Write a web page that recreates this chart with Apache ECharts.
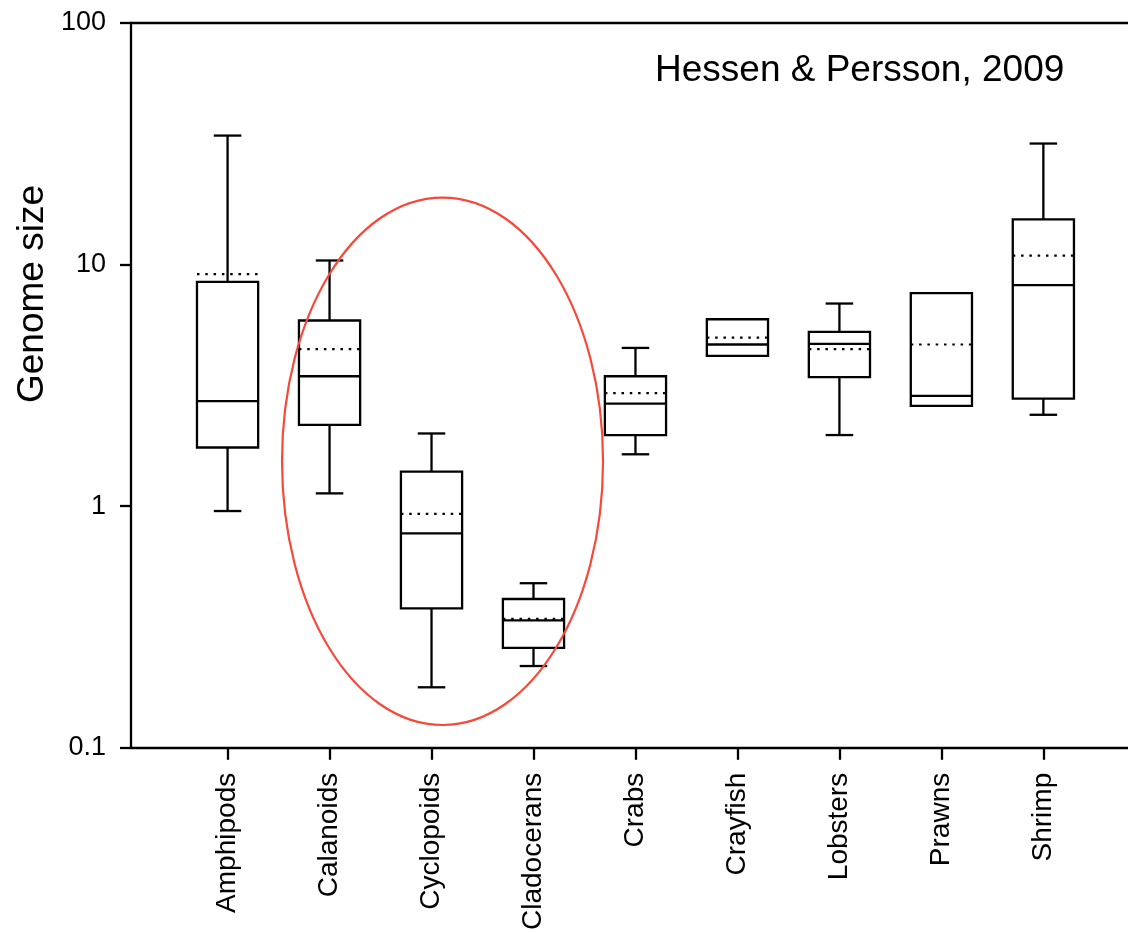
<!DOCTYPE html>
<html><head><meta charset="utf-8">
<script src="https://cdn.jsdelivr.net/npm/echarts@6/dist/echarts.min.js"></script>
<style>html,body{margin:0;padding:0;background:#fff}#c{width:1128px;height:933px}</style>
</head><body><div id="c"></div>
<script>
const categories = ['Amphipods','Calanoids','Cyclopoids','Cladocerans','Crabs','Crayfish','Lobsters','Prawns','Shrimp'];
const whiskerLow  = [0.955, 1.13, 0.178, 0.218, 1.64, 4.19, 1.97, 2.60, 2.39];
const quartile1   = [1.75, 2.17, 0.378, 0.259, 1.97, 4.19, 3.42, 2.60, 2.79];
const medians     = [2.72, 3.45, 0.772, 0.337, 2.66, 4.67, 4.70, 2.86, 8.22];
const quartile3   = [8.48, 5.87, 1.39, 0.413, 3.45, 5.94, 5.27, 7.62, 15.4];
const whiskerHigh = [34.2, 10.4, 2.0, 0.480, 4.52, 5.94, 6.90, 7.62, 31.7];
const means       = [9.13, 4.47, 0.93, 0.342, 2.94, 4.99, 4.47, 4.67, 10.9];
const yTicks = [0.1, 1, 10, 100];
// annotation ellipse bounds: [x left, x right, y bottom, y top] in data units
const highlightEllipse = [1.534, 4.682, 0.1243, 18.95];
const citation = 'Hessen & Persson, 2009';
const yAxisTitle = 'Genome size';

const FONT = '"Liberation Sans", Arial, Helvetica, sans-serif';
const LW = 2.3;
const xPositions = categories.map((c, i) => i + 1);
const boxData = categories.map((c, i) => [i + 1, whiskerLow[i], quartile1[i], medians[i], quartile3[i], whiskerHigh[i], means[i]]);

function renderBox(params, api) {
  const x = api.value(0);
  const lo = api.value(1), q1 = api.value(2), med = api.value(3), q3 = api.value(4), hi = api.value(5), mean = api.value(6);
  const halfBox = 0.3, halfCap = 0.135;
  const c = (xx, yy) => api.coord([xx, yy]);
  const left = c(x - halfBox, q3)[0], right = c(x + halfBox, q3)[0];
  const cx = c(x, q3)[0];
  const capL = c(x - halfCap, q3)[0], capR = c(x + halfCap, q3)[0];
  const yQ1 = c(x, q1)[1], yQ3 = c(x, q3)[1], yMed = c(x, med)[1], yMean = c(x, mean)[1];
  const yLo = c(x, lo)[1], yHi = c(x, hi)[1];
  const st = { stroke: '#000', lineWidth: LW, fill: null };
  const ch = [];
  if (hi > q3) {
    ch.push({ type: 'line', shape: { x1: cx, y1: yQ3, x2: cx, y2: yHi }, style: st });
    ch.push({ type: 'line', shape: { x1: capL, y1: yHi, x2: capR, y2: yHi }, style: st });
  }
  if (lo < q1) {
    ch.push({ type: 'line', shape: { x1: cx, y1: yQ1, x2: cx, y2: yLo }, style: st });
    ch.push({ type: 'line', shape: { x1: capL, y1: yLo, x2: capR, y2: yLo }, style: st });
  }
  ch.push({ type: 'rect', shape: { x: left, y: yQ3, width: right - left, height: yQ1 - yQ3 }, style: { stroke: '#000', lineWidth: LW, fill: '#fff' } });
  ch.push({ type: 'line', shape: { x1: left, y1: yMed, x2: right, y2: yMed }, style: st });
  ch.push({ type: 'line', shape: { x1: left, y1: yMean, x2: right, y2: yMean }, style: { stroke: '#000', lineWidth: 2.2, lineDash: [2.5, 5.8], fill: null } });
  return { type: 'group', children: ch };
}

function renderEllipse(params, api) {
  const p1 = api.coord([api.value(0), api.value(3)]);
  const p2 = api.coord([api.value(1), api.value(2)]);
  return {
    type: 'ellipse',
    shape: { cx: (p1[0] + p2[0]) / 2, cy: (p1[1] + p2[1]) / 2, rx: Math.abs(p2[0] - p1[0]) / 2, ry: Math.abs(p2[1] - p1[1]) / 2 },
    style: { stroke: '#f6493a', lineWidth: 2.2, fill: null },
    z2: 10
  };
}

const chart = echarts.init(document.getElementById('c'), null, { renderer: 'canvas' });
const axisLineStyle = { color: '#000', width: LW };
chart.setOption({
  animation: false,
  backgroundColor: '#fff',
  textStyle: { fontFamily: FONT },
  title: {
    text: citation, left: 655, top: 52, padding: 0,
    textStyle: { fontFamily: FONT, fontSize: 37, fontWeight: 'normal', color: '#000' }
  },
  graphic: [{
    type: 'text', left: 14, top: 185,
    rotation: Math.PI / 2,
    style: { text: yAxisTitle, fontSize: 37, fontFamily: FONT, fill: '#000' }
  }],
  grid: { left: 131, right: 0, top: 23, bottom: 185, containLabel: false },
  xAxis: [{
    type: 'value', min: 0.053, max: 9.83, position: 'bottom',
    axisLine: { show: true, onZero: false, lineStyle: axisLineStyle },
    axisTick: { show: true, length: 12, lineStyle: axisLineStyle, customValues: xPositions },
    axisLabel: { rotate: 90, fontSize: 28, color: '#000', fontFamily: FONT, margin: 25, customValues: xPositions,
      formatter: v => categories[Math.round(v) - 1] || '' },
    splitLine: { show: false }
  }, {
    type: 'value', min: 0.053, max: 9.83, position: 'top',
    axisLine: { show: true, onZero: false, lineStyle: axisLineStyle },
    axisTick: { show: false }, axisLabel: { show: false }, splitLine: { show: false }
  }],
  yAxis: {
    type: 'log', logBase: 10, min: 0.1, max: 100,
    axisLine: { show: true, onZero: false, lineStyle: axisLineStyle },
    axisTick: { show: true, length: 11, lineStyle: axisLineStyle, customValues: yTicks },
    axisLabel: { fontSize: 27, color: '#000', fontFamily: FONT, margin: 25, customValues: yTicks,
      formatter: v => String(+v.toPrecision(3)) },
    splitLine: { show: false }
  },
  series: [{
    type: 'custom', name: 'Genome size', xAxisIndex: 0, yAxisIndex: 0,
    data: boxData, renderItem: renderBox,
    encode: { x: 0, y: [1, 2, 3, 4, 5, 6] }, z: 2
  }, {
    type: 'custom', name: 'highlight', xAxisIndex: 0, yAxisIndex: 0,
    data: [highlightEllipse], renderItem: renderEllipse,
    encode: { x: [0, 1], y: [2, 3] }, z: 5, silent: true
  }]
});
</script>
</body></html>
